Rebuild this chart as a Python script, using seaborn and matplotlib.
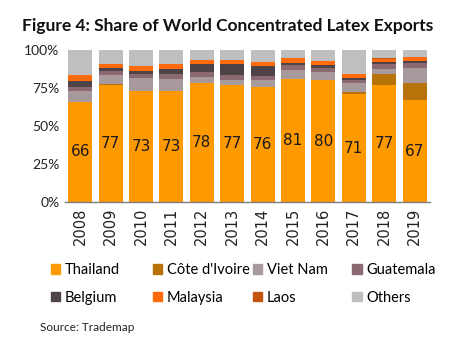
import matplotlib
matplotlib.use("Agg")
import matplotlib.pyplot as plt
import seaborn as sns
import numpy as np
import pandas as pd
from matplotlib.patches import Patch

years = ["2008", "2009", "2010", "2011", "2012", "2013", "2014", "2015", "2016", "2017", "2018", "2019"]
countries = ["Thailand", "Côte d'Ivoire", "Viet Nam", "Guatemala", "Belgium", "Malaysia", "Laos", "Others"]
thailand = [66, 77, 73, 73, 78, 77, 76, 81, 80, 71, 77, 67]
cote_divoire = [0, 0.4, 0, 0, 0, 0, 0, 0, 0.6, 1.1, 7.2, 11.2]
viet_nam = [7.2, 6.4, 8.5, 7.7, 4.4, 3.3, 4.6, 5.8, 5.0, 5.9, 3.5, 9.9]
guatemala = [2.6, 2.6, 2.6, 3.3, 3.3, 3.3, 2.6, 3.1, 2.6, 2.4, 3.3, 3.5]
belgium = [3.7, 2.0, 1.8, 3.5, 5.3, 7.2, 6.0, 1.8, 2.0, 1.3, 1.3, 1.1]
malaysia = [3.9, 2.6, 3.9, 3.5, 2.6, 2.6, 3.0, 2.9, 2.6, 2.6, 2.0, 2.6]
laos = [0, 0, 0, 0, 0, 0, 0, 0, 0, 0, 0.3, 0.3]
others = [16.6, 9.0, 10.2, 9.0, 6.4, 6.6, 7.8, 5.4, 7.2, 15.7, 5.4, 4.4]
series = [thailand, cote_divoire, viet_nam, guatemala, belgium, malaysia, laos, others]
colors = ["#FF9900", "#B8720A", "#A8999C", "#8A6A70", "#4E4346", "#FF6A0A", "#C2560F", "#BFBFBF"]

data = np.array(series, dtype=float)
cum = np.cumsum(data, axis=0)

fig = plt.figure(figsize=(4.51, 3.45), dpi=100)
ax = fig.add_axes([0.144, 0.414, 0.809, 0.441])

for i in range(len(countries) - 1, -1, -1):
    df = pd.DataFrame({"year": years, "value": cum[i]})
    sns.barplot(data=df, x="year", y="value", color=colors[i], saturation=1,
                width=0.79, ax=ax, linewidth=0)

ax.bar_label(ax.containers[-1], labels=[str(v) for v in thailand], label_type="center",
             fontsize=11, family="DejaVu Sans", color="#1a1a1a")

ax.set_xlim(-0.5, 11.5)
ax.set_ylim(0, 100)
ax.set_yticks([0, 25, 50, 75, 100])
ax.set_yticklabels(["0%", "25%", "50%", "75%", "100%"], family="Lato", fontsize=10, color="#222222")
ax.set_xticks(range(len(years)))
ax.set_xticklabels(years, rotation=90, family="DejaVu Sans", fontsize=10.5, color="#222222")
ax.set_xlabel("")
ax.set_ylabel("")
ax.tick_params(axis="both", length=0, pad=4)
for s in ["top", "right", "left"]:
    ax.spines[s].set_visible(False)
ax.spines["bottom"].set_color("#7f7f7f")
ax.spines["bottom"].set_linewidth(1)

fig.text(0.505, 0.925, "Figure 4: Share of World Concentrated Latex Exports", ha="center", va="center",
         family="Lato", fontweight="bold", fontsize=12.5, color="#111111")

col_x = [0.113, 0.339, 0.561, 0.781]
for c in range(4):
    handles = [Patch(color=colors[c], label=countries[c]), Patch(color=colors[c + 4], label=countries[c + 4])]
    leg = fig.legend(handles=handles, loc="upper left", bbox_to_anchor=(col_x[c], 0.237), frameon=False,
                     prop={"family": "Lato", "size": 10.5}, handlelength=0.65, handleheight=0.65,
                     handletextpad=0.3, labelspacing=0.92, borderaxespad=0, borderpad=0)

fig.text(0.088, 0.05, "Source: Trademap", family="Lato", fontsize=8.5, color="#222222", va="center")

fig.savefig("out.png", dpi=100)
